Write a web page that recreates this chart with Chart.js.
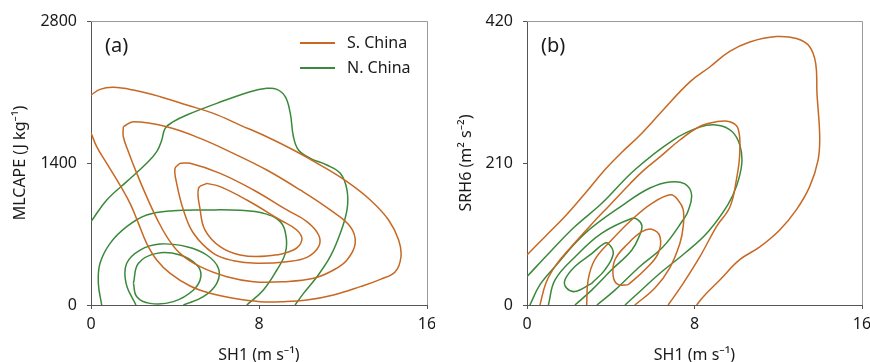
<!DOCTYPE html>
<html>
<head>
<meta charset="utf-8">
<script src="https://cdn.jsdelivr.net/npm/chart.js@4.4.1/dist/chart.umd.min.js"></script>
<style>
  body { margin: 0; background: #fff; }
  .panel { position: absolute; top: 0; width: 435px; height: 362px; }
</style>
</head>
<body>
<div class="panel" style="left:0"><canvas id="capeChart" width="435" height="362"></canvas></div>
<div class="panel" style="left:435px"><canvas id="srhChart" width="435" height="362"></canvas></div>
<script>
// axis ticks
const sh1Ticks = [0, 8, 16];
const capeTicks = [0, 1400, 2800];
const srhTicks = [0, 210, 420];
const regions = ['S. China', 'N. China'];

// (a) SH1 vs MLCAPE, density contours, [SH1, MLCAPE]
const southCape1 = [[0,2070],[0.43,2126],[1.06,2146],[2.02,2119],[3.29,2054],[4.56,1972],[5.83,1889],[7.10,1774],[8.37,1659],[9.64,1528],[10.92,1380],[12.19,1216],[13.30,1035],[14.17,838],[14.65,641],[14.76,476],[14.49,329],[13.78,253],[12.82,181],[11.55,99],[10.28,49],[9.17,33],[8.06,33],[6.78,66],[5.67,115],[4.72,187],[3.77,312],[3.13,444],[2.65,608],[2.26,805],[1.86,1002],[1.38,1183],[0.75,1397],[0.27,1561],[0,1699]];
const southCape2 = [[1.54,1758],[2.02,1807],[3.61,1758],[5.20,1643],[6.78,1495],[8.37,1331],[9.96,1134],[11.39,937],[12.35,772],[12.58,608],[12.19,444],[11.55,345],[10.60,263],[9.17,230],[7.74,230],[6.47,279],[5.20,378],[4.24,509],[3.61,674],[3.13,854],[2.65,1068],[2.18,1298],[1.78,1512],[1.54,1659],[1.54,1758]];
const southCape3 = [[4.24,1397],[4.72,1397],[6.15,1298],[7.74,1134],[9.33,937],[10.28,822],[10.84,690],[10.84,575],[10.28,470],[9.33,427],[7.90,411],[6.78,437],[5.83,509],[4.88,707],[4.40,937],[4.08,1199],[4.00,1347],[4.24,1397]];
const southCape4 = [[5.51,1199],[6.15,1167],[7.42,1035],[9.01,838],[9.80,739],[10.04,641],[9.64,542],[8.37,483],[7.10,493],[6.15,575],[5.43,739],[5.20,937],[5.12,1150],[5.51,1199]];
const northCape1 = [[0,822],[0.75,1035],[1.70,1216],[2.65,1397],[3.13,1512],[3.37,1627],[3.53,1742],[3.92,1807],[4.56,1873],[5.99,1988],[7.58,2103],[8.37,2136],[8.85,2126],[9.25,2054],[9.49,1889],[9.64,1659],[9.88,1528],[10.44,1446],[11.23,1380],[11.87,1298],[12.19,1134],[12.19,937],[11.87,707],[11.39,476],[10.76,279],[10.12,115],[9.72,0]];
const northCape2 = [[0.51,0],[0.35,214],[0.43,411],[0.91,608],[1.70,772],[2.65,887],[3.92,930],[5.51,937],[7.10,933],[8.21,904],[9.01,822],[9.29,674],[9.25,509],[8.85,345],[8.21,148],[7.42,0]];
const northCape3 = [[2.14,0],[1.67,214],[1.70,411],[2.34,542],[3.29,601],[4.56,575],[5.51,493],[6.07,361],[5.99,214],[5.35,82],[4.40,0]];
const northCape4 = [[2.02,214],[2.26,411],[3.13,509],[4.24,493],[5.04,394],[5.23,279],[4.88,148],[3.92,33],[2.81,16],[2.18,82],[2.02,214]];

// (b) SH1 vs SRH6, [SH1, SRH6]
const southSrh1 = [[0,74],[0.86,101],[1.81,131],[2.77,165],[3.72,200],[4.53,226],[5.39,251],[6.49,288],[7.78,330],[8.73,352],[9.68,375],[10.64,389],[11.91,397],[12.87,394],[13.50,382],[13.79,357],[13.85,313],[13.98,249],[13.90,214],[13.50,175],[12.87,141],[12.07,111],[11.12,86],[10.16,67],[9.21,37],[8.41,12],[8.10,0]];
const southSrh2 = [[0.62,0],[0.91,33],[1.38,59],[2.05,84],[3.01,117],[3.96,148],[4.91,179],[5.53,198],[6.35,219],[7.30,244],[8.25,264],[9.05,271],[9.69,271],[10.08,261],[10.16,224],[10.00,185],[9.69,145],[9.05,116],[8.25,71],[7.46,32],[6.74,0]];
const southSrh3 = [[2.85,0],[2.92,37],[3.24,67],[4.04,96],[5.00,126],[5.95,150],[6.86,163],[7.22,155],[7.46,141],[7.46,116],[7.30,91],[6.82,55],[6.11,25],[5.15,0]];
const southSrh4 = [[4.83,30],[4.36,30],[4.12,42],[4.20,67],[4.83,91],[5.47,108],[5.95,112],[6.35,101],[6.26,76],[5.63,52],[4.83,30]];
const northSrh1 = [[0,42],[1.18,81],[2.29,116],[3.56,150],[5.15,200],[6.98,244],[8.25,263],[9.11,266],[9.78,257],[10.16,237],[10.26,210],[10.02,177],[9.59,148],[8.64,108],[7.59,78],[6.35,47],[5.39,20],[4.68,0]];
const northSrh2 = [[0.14,0],[0.62,30],[1.34,57],[2.77,106],[4.68,150],[5.87,173],[6.82,182],[7.54,179],[7.86,163],[7.68,138],[7.46,126],[6.50,86],[5.39,57],[4.20,22],[3.34,0]];
const northSrh3 = [[1.02,0],[1.34,37],[2.29,71],[3.56,106],[5.00,128],[5.30,126],[5.49,117],[5.39,104],[5.00,81],[4.04,52],[3.09,22],[2.29,0]];
const northSrh4 = [[3.09,32],[2.29,20],[1.89,25],[1.81,37],[2.29,57],[3.09,76],[3.64,90],[3.88,91],[4.12,76],[3.72,52],[3.09,32]];

const orange = 'rgb(199,104,35)';
const green = 'rgb(58,137,58)';
const font = '"Noto Sans", "Open Sans", sans-serif';

function contour(points, label, color) {
  return {
    label: label,
    data: points.map(p => ({ x: p[0], y: p[1] })),
    showLine: true,
    borderColor: color,
    borderWidth: 1.5,
    pointRadius: 0,
    tension: 0.4,
    fill: false
  };
}

const panelText = {
  id: 'panelText',
  afterDraw(chart, args, opts) {
    const { ctx, chartArea: a } = chart;
    ctx.save();
    // top and right frame
    ctx.strokeStyle = '#9a9a9a';
    ctx.lineWidth = 1;
    ctx.beginPath();
    ctx.moveTo(a.left, a.top + 0.5);
    ctx.lineTo(a.right + 0.5, a.top + 0.5);
    ctx.lineTo(a.right + 0.5, a.bottom);
    ctx.stroke();
    ctx.fillStyle = '#1a1a1a';
    ctx.textBaseline = 'middle';
    ctx.font = '20px ' + font;
    ctx.fillText(opts.tag, a.left + 14, a.top + 25);
    if (opts.legend) {
      ctx.font = '16px ' + font;
      [orange, green].forEach((c, i) => {
        const y = a.top + 22 + i * 25;
        ctx.strokeStyle = c;
        ctx.lineWidth = 2;
        ctx.beginPath();
        ctx.moveTo(a.left + 209, y);
        ctx.lineTo(a.left + 244, y);
        ctx.stroke();
        ctx.fillText(regions[i], a.left + 256, y);
      });
    }
    ctx.restore();
  }
};

function makeChart(id, tag, yTicks, yTitle, titlePad, axisWidth, south, north, legend) {
  const datasets = south.map(s => contour(s, regions[0], orange))
    .concat(north.map(n => contour(n, regions[1], green)));
  return new Chart(document.getElementById(id), {
    type: 'scatter',
    data: { datasets: datasets },
    plugins: [panelText],
    options: {
      responsive: false,
      animation: false,
      layout: { padding: { top: 21, right: 8, left: 0, bottom: 0 } },
      plugins: {
        legend: { display: false },
        tooltip: { enabled: false },
        panelText: { tag: tag, legend: legend }
      },
      scales: {
        x: {
          type: 'linear',
          min: sh1Ticks[0],
          max: sh1Ticks[2],
          ticks: { stepSize: sh1Ticks[1] - sh1Ticks[0], color: '#1a1a1a', font: { family: font, size: 16 }, padding: 6, maxRotation: 0, callback: v => String(v) },
          grid: { drawOnChartArea: false, drawTicks: true, tickLength: 4, color: '#555' },
          border: { color: '#555', width: 1 },
          title: { display: true, text: 'SH1 (m s⁻¹)', color: '#1a1a1a', font: { family: font, size: 16 }, padding: { top: 0, bottom: -3 } },
          afterFit: s => { s.height = 57; s.paddingLeft = 0; s.paddingRight = 0; }
        },
        y: {
          type: 'linear',
          min: yTicks[0],
          max: yTicks[2],
          ticks: { stepSize: yTicks[1] - yTicks[0], color: '#1a1a1a', font: { family: font, size: 16 }, padding: 10, callback: v => String(v) },
          grid: { drawOnChartArea: false, drawTicks: true, tickLength: 4, color: '#555' },
          border: { color: '#555', width: 1 },
          title: { display: true, text: yTitle, color: '#1a1a1a', font: { family: font, size: 16 }, padding: { top: titlePad, bottom: 0 } },
          afterFit: s => { s.width = axisWidth; }
        }
      }
    }
  });
}

makeChart('capeChart', '(a)', capeTicks, 'MLCAPE (J kg⁻¹)', 11, 91,
  [southCape1, southCape2, southCape3, southCape4],
  [northCape1, northCape2, northCape3, northCape4], true);
makeChart('srhChart', '(b)', srhTicks, 'SRH6 (m² s⁻²)', 22, 92,
  [southSrh1, southSrh2, southSrh3, southSrh4],
  [northSrh1, northSrh2, northSrh3, northSrh4], false);
</script>
</body>
</html>
